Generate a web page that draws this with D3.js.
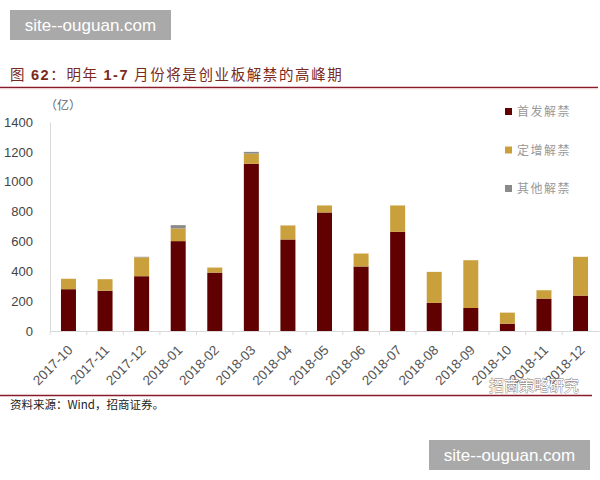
<!DOCTYPE html>
<html><head><meta charset="utf-8">
<script src="https://cdn.jsdelivr.net/npm/d3@7"></script>
<style>body{margin:0;background:#fff}svg{display:block}</style>
</head><body>
<svg id="c" width="600" height="480"></svg>
<script>
const categories = ["2017-10","2017-11","2017-12","2018-01","2018-02","2018-03","2018-04","2018-05","2018-06","2018-07","2018-08","2018-09","2018-10","2018-11","2018-12"];
const ipoUnlock   = [280,270,367,602,391,1120,613,794,432,664,188,154,49,217,237];
const placeUnlock = [70,77,126,85,34,68,94,47,87,177,208,320,74,56,260];
const otherUnlock = [0,0,4,22,0,12,0,0,0,0,0,0,0,0,0];
const seriesNames = ["首发解禁","定增解禁","其他解禁"];
const seriesColors = ["#600000","#c9a03c","#8a8a8a"];
const yTicks = [0,200,400,600,800,1000,1200,1400];

const svg = d3.select("#c");
const cjk = "'Noto Sans CJK SC', sans-serif";
const lat = "'Liberation Sans', Arial, sans-serif";

// watermarks
function wm(x,y){
  svg.append("rect").attr("x",x).attr("y",y).attr("width",161).attr("height",30).attr("fill","#a9a9a9");
  svg.append("text").attr("x",x+80.5).attr("y",y+21).attr("text-anchor","middle")
    .attr("font-family",lat).attr("font-size",17).attr("fill","#fff").text("site--ouguan.com");
}
wm(10,10); wm(429,440);

// title
const t = svg.append("text").attr("x",10).attr("y",80).attr("font-family",cjk).attr("font-size",14.5)
  .attr("fill","#7a2a1c").attr("letter-spacing",1.6);
t.append("tspan").text("图 ");
t.append("tspan").attr("font-family",lat).attr("font-weight","bold").text("62");
t.append("tspan").text("：明年 ");
t.append("tspan").attr("font-family",lat).attr("font-weight","bold").text("1-7");
t.append("tspan").text(" 月份将是创业板解禁的高峰期");
svg.append("line").attr("x1",0).attr("x2",598).attr("y1",87.5).attr("y2",87.5).attr("stroke","#8b1a2a").attr("stroke-width",1.5);
svg.append("line").attr("x1",0).attr("x2",598).attr("y1",88.8).attr("y2",88.8).attr("stroke","#f1d7d7").attr("stroke-width",1);

const x = d3.scaleBand().domain(categories).range([50,599]).paddingInner(0.59).paddingOuter(0.3);
const y = d3.scaleLinear().domain([0,1400]).range([331,122]);

// axes
const yAxis = svg.append("g").attr("transform","translate(50,0)")
  .call(d3.axisLeft(y).tickValues(yTicks).tickFormat(d3.format("d")).tickSize(0).tickPadding(17));
yAxis.select(".domain").attr("stroke","#d9d9d9");
yAxis.selectAll("text").attr("font-family",lat).attr("font-size",13).attr("fill","#444");

const xAxis = svg.append("g").attr("transform","translate(0,331)")
  .call(d3.axisBottom(x).tickSize(0));
xAxis.select(".domain").attr("stroke","#d9d9d9");
xAxis.selectAll("text").attr("font-family",lat).attr("font-size",13.5).attr("fill","#555")
  .attr("text-anchor","end").attr("x",0).attr("y",0).attr("dy",0).attr("dx",0)
  .attr("transform","translate(5,20) rotate(-45)");
// small separators between categories
svg.append("g").selectAll("line").data(categories).join("line")
  .attr("x1",d=>x(d)-x.step()*x.paddingInner()/2).attr("x2",d=>x(d)-x.step()*x.paddingInner()/2)
  .attr("y1",331).attr("y2",335).attr("stroke","#d9d9d9");

svg.append("text").attr("x",45).attr("y",110).attr("font-family",cjk).attr("font-size",12).attr("fill","#666").text("（亿）");

// stacked bars
const rows = categories.map((c,i)=>({c, a:ipoUnlock[i], b:placeUnlock[i], o:otherUnlock[i]}));
const stack = d3.stack().keys(["a","b","o"])(rows);
svg.append("g").selectAll("g").data(stack).join("g").attr("fill",(d,i)=>seriesColors[i])
  .selectAll("rect").data(d=>d).join("rect")
  .attr("x",d=>x(d.data.c)).attr("width",x.bandwidth())
  .attr("y",d=>y(d[1])).attr("height",d=>y(d[0])-y(d[1]));

// legend
const lg = svg.append("g").selectAll("g").data(seriesNames).join("g")
  .attr("transform",(d,i)=>`translate(505,${112+i*38.5})`);
lg.append("rect").attr("x",0).attr("y",-4).attr("width",7).attr("height",7).attr("fill",(d,i)=>seriesColors[i]);
lg.append("text").attr("x",12).attr("y",4).attr("font-family",cjk).attr("font-size",12).attr("fill","#999")
  .attr("letter-spacing",1.5).text(d=>d);

// source
svg.append("line").attr("x1",0).attr("x2",592).attr("y1",395.5).attr("y2",395.5).attr("stroke","#8b1a2a").attr("stroke-width",1.5);
svg.append("text").attr("x",10).attr("y",409).attr("font-family",cjk).attr("font-size",11.5).attr("fill","#222").text("资料来源：Wind，招商证券。");
svg.append("text").attr("x",489).attr("y",391).attr("font-family",cjk).attr("font-size",15).attr("fill","#fff")
  .attr("stroke","#777").attr("stroke-width",0.8).attr("paint-order","stroke").text("招商策略研究");
</script>
</body></html>
